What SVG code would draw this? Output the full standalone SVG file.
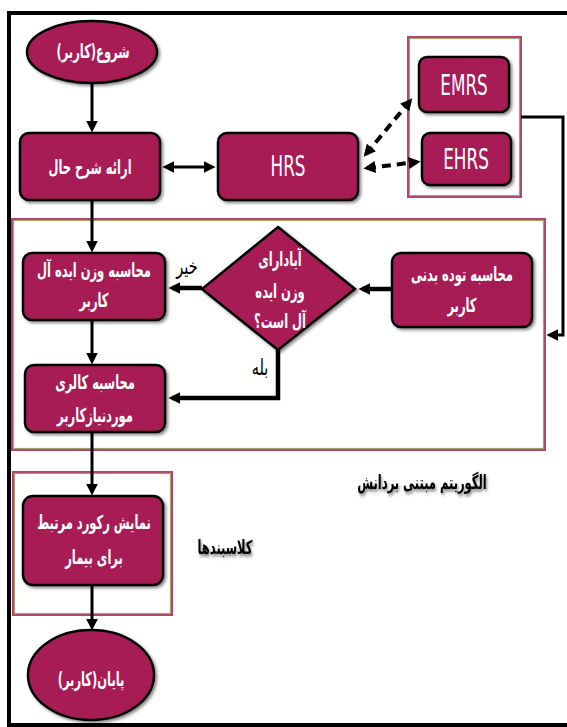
<svg xmlns="http://www.w3.org/2000/svg" width="567" height="727" viewBox="0 0 567 727">
<defs>
<style>
.node{fill:#A81F56;stroke:#000;stroke-width:2.5;filter:url(#sh)}
.t{fill:#fff;font-family:"DejaVu Sans Condensed","DejaVu Sans",sans-serif;font-size:16px;font-weight:bold;text-anchor:middle}
.lat{fill:#fff;font-family:"DejaVu Sans Condensed","Liberation Sans",sans-serif;font-size:22px;text-anchor:middle}
.lbl{fill:#000;font-family:"DejaVu Sans Condensed","DejaVu Sans",sans-serif;font-size:16px;font-weight:bold;text-anchor:middle;filter:url(#tsh)}
.yn{fill:#000;font-family:"DejaVu Sans Condensed","DejaVu Sans",sans-serif;font-size:19px;text-anchor:middle}
.cont{fill:none;stroke:#B3426E;stroke-width:2}
.cin{fill:none;stroke:#A3A56F;stroke-width:1.2}
.c{fill:none;stroke:#000;stroke-width:3}
.thick{stroke-width:4.5}
.dash{stroke-width:4;stroke-dasharray:9 6}
</style>
<filter id="sh" x="-10%" y="-10%" width="130%" height="130%"><feDropShadow dx="2" dy="2" stdDeviation="1.5" flood-color="#000" flood-opacity="0.45"/></filter>
<filter id="tsh" x="-10%" y="-30%" width="130%" height="180%"><feDropShadow dx="1.5" dy="2" stdDeviation="1.5" flood-color="#000" flood-opacity="0.5"/></filter>
<marker id="ah" viewBox="0 0 10 10" refX="7" refY="5" markerWidth="12" markerHeight="12" markerUnits="userSpaceOnUse" orient="auto-start-reverse"><path d="M0,0 L10,5 L0,10 z" fill="#000"/></marker>
</defs>
<rect x="0" y="0" width="567" height="727" fill="#fff"/>
<rect x="9" y="13" width="570" height="712" fill="none" stroke="#000" stroke-width="4"/>

<g id="containers">
<rect class="cont" x="408" y="37" width="113" height="160"/>
<rect class="cin" x="409.5" y="38.5" width="110" height="157"/>
<rect class="cont" x="12" y="219" width="533" height="231"/>
<rect class="cin" x="13.5" y="220.5" width="530" height="228"/>
<rect class="cont" x="13" y="472" width="159" height="143"/>
<rect class="cin" x="14.5" y="473.5" width="156" height="140"/>
</g>

<g id="connectors">
<line class="c" x1="92" y1="83" x2="92" y2="129" marker-end="url(#ah)"/>
<line class="c" x1="166" y1="167" x2="212" y2="167" marker-start="url(#ah)" marker-end="url(#ah)"/>
<line class="c dash" x1="366" y1="154" x2="410" y2="101" marker-start="url(#ah)" marker-end="url(#ah)"/>
<line class="c dash" x1="367" y1="168" x2="417" y2="162" marker-start="url(#ah)" marker-end="url(#ah)"/>
<polyline class="c" points="521,117 563,117 563,335 550,335" marker-end="url(#ah)"/>
<line class="c" x1="92" y1="200" x2="92" y2="249" marker-end="url(#ah)"/>
<line class="c thick" x1="392" y1="289" x2="362" y2="289" marker-end="url(#ah)"/>
<line class="c thick" x1="202" y1="288" x2="172" y2="288" marker-end="url(#ah)"/>
<polyline class="c thick" points="278,350 278,398 172,398" marker-end="url(#ah)"/>
<line class="c" x1="92" y1="320" x2="92" y2="361" marker-end="url(#ah)"/>
<line class="c" x1="92" y1="432" x2="92" y2="492" marker-end="url(#ah)"/>
<line class="c" x1="92" y1="585" x2="92" y2="627" marker-end="url(#ah)"/>
<text class="yn" transform="translate(187,274) scale(.85,1.15)">خیر</text>
<text class="yn" transform="translate(260,375) scale(.85,1.15)">بله</text>
</g>

<g id="start"><ellipse class="node" cx="92" cy="52" rx="65" ry="31"/><text class="t" transform="translate(93,58) scale(.8,1.2)">شروع(کاربر)</text></g>
<g id="history"><rect class="node" x="20" y="133" width="140" height="67" rx="9"/><text class="t" transform="translate(90,174) scale(.8,1.2)">ارائه شرح حال</text></g>
<g id="hrs"><rect class="node" x="218" y="133" width="140" height="67" rx="9"/><text class="lat" transform="translate(288,176) scale(.85,1.25)">HRS</text></g>
<g id="emrs"><rect class="node" x="419" y="57" width="90" height="55" rx="8"/><text class="lat" transform="translate(464,95) scale(.85,1.25)">EMRS</text></g>
<g id="ehrs"><rect class="node" x="422" y="133" width="89" height="52" rx="8"/><text class="lat" transform="translate(466,169) scale(.85,1.25)">EHRS</text></g>
<g id="bmi"><rect class="node" x="392" y="253" width="140" height="74" rx="9"/><text class="t" transform="translate(462,281) scale(.8,1.2)">محاسبه توده بدنی</text><text class="t" transform="translate(462,312) scale(.8,1.2)">کاربر</text></g>
<g id="decision"><polygon class="node" points="278,227 355,289 278,350 202,289"/><text class="t" transform="translate(280,266) scale(.8,1.2)">آیادارای</text><text class="t" transform="translate(280,298) scale(.8,1.2)">وزن ایده</text><text class="t" transform="translate(280,328) scale(.8,1.2)">آل است؟</text></g>
<g id="idealweight"><rect class="node" x="23" y="253" width="142" height="67" rx="9"/><text class="t" transform="translate(94,277) scale(.8,1.2)">محاسبه وزن ایده آل</text><text class="t" transform="translate(94,307) scale(.8,1.2)">کاربر</text></g>
<g id="calorie"><rect class="node" x="25" y="365" width="140" height="67" rx="9"/><text class="t" transform="translate(95,389) scale(.8,1.2)">محاسبه کالری</text><text class="t" transform="translate(95,422) scale(.8,1.2)">موردنیازکاربر</text></g>
<g id="record"><rect class="node" x="23" y="496" width="140" height="89" rx="10"/><text class="t" transform="translate(94,529) scale(.8,1.2)">نمایش رکورد مرتبط</text><text class="t" transform="translate(94,564) scale(.8,1.2)">برای بیمار</text></g>
<g id="end"><ellipse class="node" cx="91" cy="675" rx="63" ry="45"/><text class="t" transform="translate(91,686) scale(.8,1.2)">پایان(کاربر)</text></g>

<g id="labels">
<text class="lbl" transform="translate(422,489) scale(.8,1.2)">الگوریتم مبتنی بردانش</text>
<text class="lbl" transform="translate(225,554) scale(.8,1.2)">کلاسبندها</text>
</g>
</svg>
